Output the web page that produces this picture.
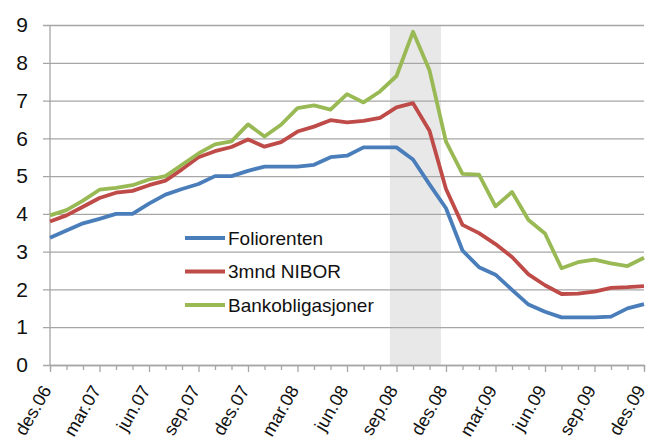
<!DOCTYPE html>
<html>
<head>
<meta charset="utf-8">
<script src="https://cdn.jsdelivr.net/npm/d3@7"></script>
<style>
  body { margin: 0; background: #fff; }
  svg { display: block; font-family: "Liberation Sans", Arial, sans-serif; }
</style>
</head>
<body>
<div id="chart"></div>
<script>
const W = 650;
const H = 445;

const MARGIN = { TOP: 25, RIGHT: 6, BOTTOM: 80, LEFT: 50 };

// months des.06 .. des.09
const months = [
  "des.06", "jan.07", "feb.07", "mar.07", "apr.07", "mai.07", "jun.07", "jul.07", "aug.07",
  "sep.07", "okt.07", "nov.07", "des.07", "jan.08", "feb.08", "mar.08", "apr.08", "mai.08",
  "jun.08", "jul.08", "aug.08", "sep.08", "okt.08", "nov.08", "des.08", "jan.09", "feb.09",
  "mar.09", "apr.09", "mai.09", "jun.09", "jul.09", "aug.09", "sep.09", "okt.09", "nov.09",
  "des.09",
];

const foliorenten = [
  3.37, 3.56, 3.75, 3.87, 4.0, 4.0, 4.27, 4.51, 4.66, 4.79, 5.0, 5.0, 5.14,
  5.25, 5.25, 5.25, 5.3, 5.5, 5.54, 5.76, 5.76, 5.76, 5.44, 4.78, 4.15,
  3.03, 2.59, 2.39, 1.99, 1.6, 1.41, 1.26, 1.26, 1.26, 1.28, 1.5, 1.61,
];

const nibor = [
  3.8, 3.96, 4.19, 4.42, 4.56, 4.61, 4.76, 4.88, 5.18, 5.5, 5.66, 5.77, 5.97,
  5.78, 5.9, 6.18, 6.31, 6.48, 6.42, 6.46, 6.54, 6.82, 6.93, 6.2, 4.66,
  3.71, 3.49, 3.2, 2.86, 2.4, 2.11, 1.88, 1.89, 1.94, 2.04, 2.06, 2.09,
];

const bankobligasjoner = [
  3.96, 4.1, 4.35, 4.64, 4.69, 4.76, 4.91, 5.0, 5.3, 5.6, 5.84, 5.92, 6.37,
  6.05, 6.36, 6.8, 6.87, 6.76, 7.17, 6.95, 7.24, 7.65, 8.82, 7.8, 5.91,
  5.06, 5.04, 4.2, 4.58, 3.84, 3.48, 2.56, 2.72, 2.79, 2.69, 2.62, 2.84,
];

const seriesNames = ["Foliorenten", "3mnd NIBOR", "Bankobligasjoner"];
const colors = ["#4a7ebb", "#be4b48", "#98b954"];

// crisis period, in month index (mid sep.08 -> late nov.08)
const shadeRange = [20.6, 23.7];

const yTicks = [0, 1, 2, 3, 4, 5, 6, 7, 8, 9];

const svg = d3
  .select("#chart")
  .append("svg")
  .attr("width", W)
  .attr("height", H);

const x = d3
  .scaleLinear()
  .domain([0, months.length - 1])
  .range([MARGIN.LEFT, W - MARGIN.RIGHT]);

const y = d3
  .scaleLinear()
  .domain([0, 9])
  .range([H - MARGIN.BOTTOM, MARGIN.TOP]);

// shaded period
svg
  .append("rect")
  .attr("x", x(shadeRange[0]))
  .attr("y", y(9))
  .attr("width", x(shadeRange[1]) - x(shadeRange[0]))
  .attr("height", y(0) - y(9))
  .attr("fill", "#e8e8e8");

// horizontal grid
const yAxis = d3
  .axisLeft(y)
  .tickValues(yTicks)
  .tickSize(-(W - MARGIN.RIGHT - MARGIN.LEFT))
  .tickPadding(22)
  .tickFormat(d3.format("d"));

const yG = svg
  .append("g")
  .attr("transform", `translate(${MARGIN.LEFT},0)`)
  .call(yAxis);
yG.select(".domain").remove();
yG.selectAll(".tick line")
  .attr("x1", -7)
  .attr("stroke", "#a6a6a6")
  .attr("stroke-width", 1.3);
yG.selectAll(".tick text")
  .attr("font-size", 21)
  .attr("fill", "#111")
  .attr("font-family", "Liberation Sans, Arial, sans-serif");

// vertical axis line
svg
  .append("line")
  .attr("x1", MARGIN.LEFT)
  .attr("x2", MARGIN.LEFT)
  .attr("y1", y(9))
  .attr("y2", y(0))
  .attr("stroke", "#a6a6a6")
  .attr("stroke-width", 1.3);

// x axis: monthly ticks, labels every 3 months
const xAxis = d3
  .axisBottom(x)
  .tickValues(d3.range(months.length))
  .tickSize(5)
  .tickFormat("");

const xG = svg
  .append("g")
  .attr("transform", `translate(0,${y(0)})`)
  .call(xAxis);
xG.select(".domain")
  .attr("stroke", "#a6a6a6")
  .attr("stroke-width", 1.3);
xG.selectAll(".tick line")
  .attr("stroke", "#a6a6a6")
  .attr("stroke-width", 1.3)
  .attr("y2", (d) => (d % 3 === 0 ? 7 : 5));

svg
  .append("g")
  .selectAll("text")
  .data(months.filter((m, i) => i % 3 === 0))
  .join("text")
  .attr("text-anchor", "end")
  .attr("font-size", 18)
  .attr("fill", "#111")
  .attr("transform", (d) => {
    const i = months.indexOf(d);
    return `translate(${x(i) + 2},${y(0) + 25}) rotate(-60)`;
  })
  .text((d) => d);

// lines
const line = d3
  .line()
  .x((d, i) => x(i))
  .y((d) => y(d));

const allSeries = [foliorenten, nibor, bankobligasjoner];

svg
  .append("g")
  .selectAll("path")
  .data(allSeries)
  .join("path")
  .attr("d", line)
  .attr("fill", "none")
  .attr("stroke", (d, i) => colors[i])
  .attr("stroke-width", 3.8)
  .attr("stroke-linejoin", "round");

// legend
const legend = svg
  .append("g")
  .selectAll("g")
  .data(seriesNames)
  .join("g")
  .attr("transform", (d, i) => `translate(185,${238 + i * 33.5})`);

legend
  .append("line")
  .attr("x1", 0)
  .attr("x2", 40)
  .attr("stroke", (d, i) => colors[i])
  .attr("stroke-width", 3.8);

legend
  .append("text")
  .attr("x", 43)
  .attr("dy", "0.35em")
  .attr("font-size", 19)
  .attr("fill", "#111")
  .text((d) => d);
</script>
</body>
</html>
